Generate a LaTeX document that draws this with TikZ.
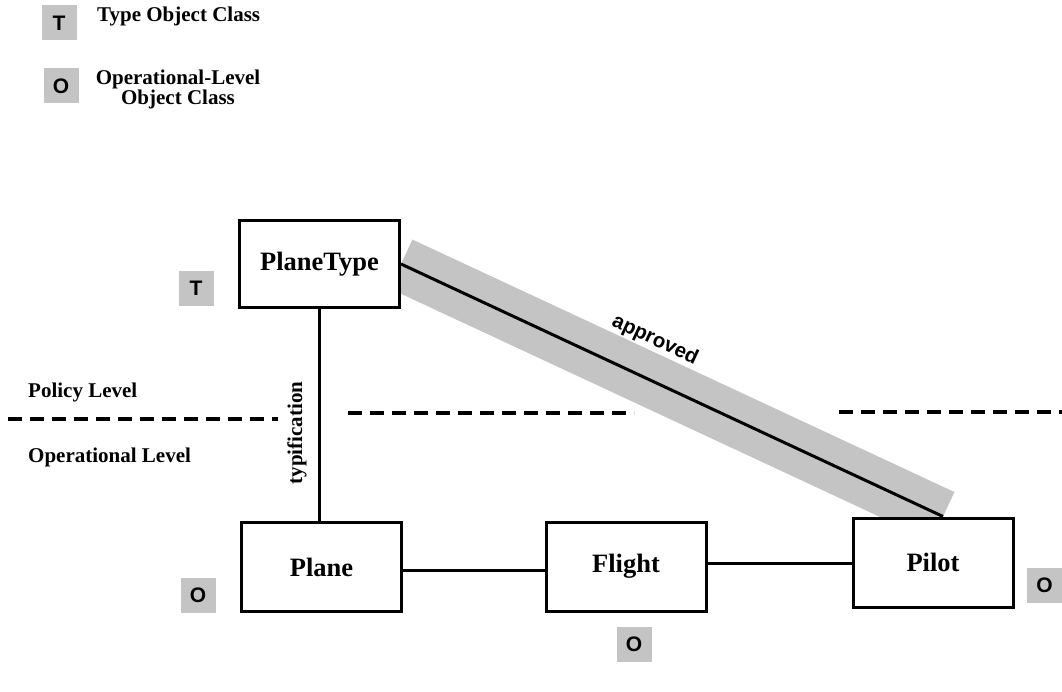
\documentclass[tikz,border=0pt]{standalone}
\usepackage{fontspec}
\setmainfont{Liberation Serif}
\newfontfamily\tagfont{Liberation Sans}
\definecolor{bandgray}{RGB}{196,196,196}
\pgfdeclarelayer{background}
\pgfsetlayers{background,main}
\begin{document}
\begin{tikzpicture}[x=1pt,y=-1pt,
  objbox/.style={draw, line width=3pt, fill=white, minimum width=160pt, minimum height=89pt, inner sep=0pt, font=\fontsize{26.5}{30}\selectfont\bfseries},
  tag/.style={fill=bandgray, minimum width=35pt, minimum height=35pt, inner sep=0pt, font=\tagfont\fontsize{21}{22}\selectfont\bfseries},
  lbl/.style={font=\fontsize{21}{18}\selectfont\bfseries, inner sep=0pt},
  conn/.style={line width=3pt},
  level/.style={line width=3.5pt, dash pattern=on 14pt off 8pt},
  band/.style={draw=bandgray, line width=54pt}]
\useasboundingbox (0,0) rectangle (1062,692);

% legend
\node[tag] (legT) at (59,23) {T};
\node[lbl, anchor=base west] (legTtext) at (97,22) {Type Object Class};
\node[tag] (legO) at (61,86) {O};
\node[lbl, align=center] (legOtext) at (178,89) {Operational-Level\\Object Class};

% object boxes
\node[objbox, minimum height=87pt] (pt) at (319.5,264) {PlaneType};
\node[objbox] (plane) at (321.5,567) {Plane};
\node[objbox] (flight) at (626,566.5) {Flight};
\node[objbox] (pilot) at (933,562.5) {Pilot};

% tags
\node[tag] (tpt) at (196,288.5) {T};
\node[tag] (tplane) at (198,595.5) {O};
\node[tag] (tflight) at (634,644) {O};
\node[tag] (tpilot) at (1044.5,585) {O};

% approved association with gray band
\coordinate (apEnd) at ([xshift=10pt]pilot.north);
\begin{pgfonlayer}{background}
\draw[band] (pt.east) -- (apEnd);
\end{pgfonlayer}
\draw[conn] (pt.east) -- (apEnd);
\node[font=\tagfont\fontsize{20.5}{22}\selectfont\bfseries, rotate=-25, inner sep=0pt] (aplabel) at (655,340) {approved};

% other connectors
\draw[conn] (pt.south) -- (pt.south |- plane.north);
\node[lbl, rotate=90] (typ) at (297,433) {typification};
\coordinate (pe) at ([yshift=-3pt]plane.east);
\draw[conn] (pe) -- (pe -| flight.west);
\coordinate (fe) at ([yshift=3.5pt]flight.east);
\draw[conn] (fe) -- (fe -| pilot.west);

% level separators
\coordinate (d1a) at (8,419);
\coordinate (d1b) at (278,419);
\coordinate (d2a) at (348,413);
\coordinate (d2b) at (634,413);
\coordinate (d3a) at (839,412);
\coordinate (d3b) at (1062,412);
\draw[level] (d1a) -- (d1b);
\draw[level] (d2a) -- (d2b);
\draw[level] (d3a) -- (d3b);

\node[lbl, anchor=base west] (policy) at (28,397) {Policy Level};
\node[lbl, anchor=base west] (oper) at (28,462) {Operational Level};
\end{tikzpicture}
\end{document}
